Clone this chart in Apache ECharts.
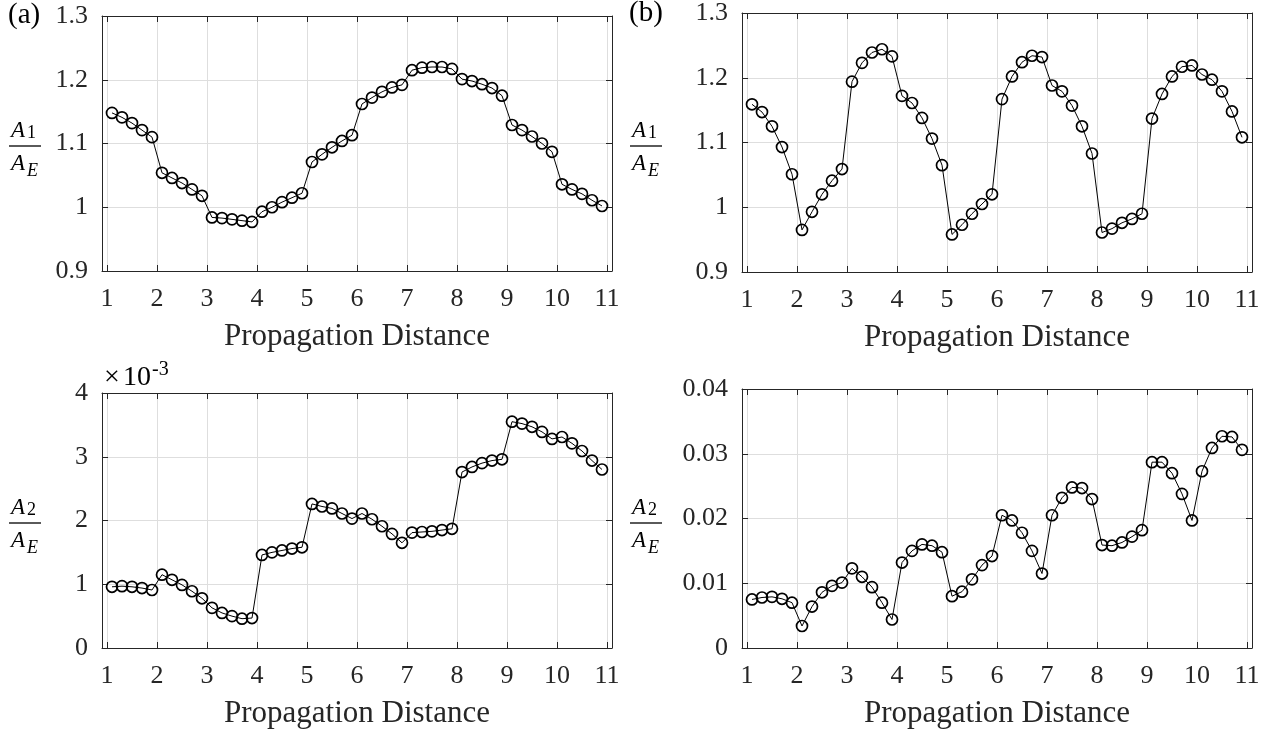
<!DOCTYPE html>
<html><head><meta charset="utf-8">
<script src="https://cdn.jsdelivr.net/npm/echarts@6/dist/echarts.min.js"></script>
<style>html,body{margin:0;padding:0;background:#fff}#c{width:1273px;height:736px}</style>
</head><body><div id="c"></div>
<script>
// ---- data ----
const xValues = [1.1,1.3,1.5,1.7,1.9, 2.1,2.3,2.5,2.7,2.9, 3.1,3.3,3.5,3.7,3.9, 4.1,4.3,4.5,4.7,4.9,
  5.1,5.3,5.5,5.7,5.9, 6.1,6.3,6.5,6.7,6.9, 7.1,7.3,7.5,7.7,7.9, 8.1,8.3,8.5,8.7,8.9,
  9.1,9.3,9.5,9.7,9.9, 10.1,10.3,10.5,10.7,10.9];
const xTicks = [1,2,3,4,5,6,7,8,9,10,11];
// panel (a) top: A1/AE
const a1 = [1.148,1.141,1.132,1.121,1.110, 1.054,1.046,1.038,1.028,1.018, 0.984,0.983,0.981,0.979,0.977,
  0.993,1.000,1.008,1.015,1.022, 1.071,1.083,1.094,1.104,1.113, 1.162,1.172,1.181,1.188,1.192,
  1.215,1.219,1.220,1.220,1.217, 1.201,1.198,1.193,1.187,1.175, 1.129,1.121,1.111,1.100,1.087,
  1.036,1.028,1.021,1.011,1.002];
// panel (a) bottom: A2/AE in units of 1e-3
const a2e3 = [0.96,0.97,0.96,0.94,0.91, 1.15,1.07,0.99,0.89,0.78, 0.63,0.55,0.50,0.46,0.47,
  1.46,1.50,1.53,1.56,1.58, 2.26,2.22,2.19,2.11,2.03, 2.11,2.02,1.91,1.79,1.65,
  1.81,1.82,1.83,1.85,1.87, 2.76,2.84,2.90,2.94,2.96, 3.55,3.52,3.47,3.39,3.28,
  3.31,3.21,3.09,2.94,2.80];
// panel (b) top: A1/AE
const b1 = [1.159,1.147,1.125,1.093,1.051, 0.965,0.993,1.020,1.041,1.059, 1.194,1.223,1.239,1.244,1.233,
  1.172,1.161,1.138,1.106,1.065, 0.958,0.973,0.990,1.005,1.020, 1.167,1.202,1.224,1.234,1.232,
  1.188,1.179,1.157,1.125,1.083, 0.961,0.967,0.976,0.982,0.990, 1.137,1.175,1.202,1.217,1.219,
  1.205,1.197,1.179,1.148,1.108];
// panel (b) bottom: A2/AE
const b2 = [0.0075,0.0078,0.0079,0.0076,0.0070, 0.0034,0.0064,0.0086,0.0096,0.0101, 0.0123,0.0110,0.0094,0.0070,0.0044,
  0.0132,0.0150,0.0160,0.0158,0.0148, 0.0080,0.0087,0.0106,0.0128,0.0142, 0.0205,0.0197,0.0178,0.0150,0.0115,
  0.0205,0.0232,0.0248,0.0247,0.0230, 0.0159,0.0158,0.0163,0.0172,0.0182, 0.0287,0.0287,0.0270,0.0238,0.0197,
  0.0273,0.0309,0.0327,0.0326,0.0306];
const xLabel = 'Propagation Distance';

// ---- layout / style ----
const FONT = "'Liberation Serif','Times New Roman',serif";
const INK = '#262626';
const TICK_FS = 26, NAME_FS = 31;
const grids = [
  {left:102, top:16, width:510, height:255},
  {left:102, top:393, width:510, height:255},
  {left:742, top:12, width:510, height:260},
  {left:742, top:389, width:510, height:259}
];
const yCfg = [
  {min:0.9, max:1.3, interval:0.1, data:a1},
  {min:0, max:4, interval:1, data:a2e3},
  {min:0.9, max:1.3, interval:0.1, data:b1},
  {min:0, max:0.04, interval:0.01, data:b2}
];

const xAxes = [], yAxes = [], series = [];
grids.forEach((g, i) => {
  const yc = yCfg[i];
  xAxes.push({
    type:'value', gridIndex:i, position:'bottom', min:0.9, max:11.1,
    axisLine:{show:true, onZero:false, lineStyle:{color:INK, width:1}},
    axisTick:{show:true, inside:true, length:6, customValues:xTicks, lineStyle:{color:INK}},
    axisLabel:{show:true, customValues:xTicks, margin:15, color:INK, fontFamily:FONT, fontSize:TICK_FS},
    splitLine:{show:true, lineStyle:{color:'#dedede', width:1}},
    name:xLabel, nameLocation:'middle', nameGap:50,
    nameTextStyle:{color:INK, fontFamily:FONT, fontSize:NAME_FS}
  });
  xAxes.push({
    type:'value', gridIndex:i, position:'top', min:0.9, max:11.1,
    axisLine:{show:true, onZero:false, lineStyle:{color:INK, width:1}},
    axisTick:{show:true, inside:true, length:6, customValues:xTicks, lineStyle:{color:INK}},
    axisLabel:{show:false}, splitLine:{show:false}
  });
  yAxes.push({
    type:'value', gridIndex:i, position:'left', min:yc.min, max:yc.max, interval:yc.interval,
    axisLine:{show:true, onZero:false, lineStyle:{color:INK, width:1}},
    axisTick:{show:true, inside:true, length:6, lineStyle:{color:INK}},
    axisLabel:{show:true, margin:14, color:INK, fontFamily:FONT, fontSize:TICK_FS},
    splitLine:{show:true, lineStyle:{color:'#dedede', width:1}}
  });
  yAxes.push({
    type:'value', gridIndex:i, position:'right', min:yc.min, max:yc.max, interval:yc.interval,
    axisLine:{show:true, onZero:false, lineStyle:{color:INK, width:1}},
    axisTick:{show:true, inside:true, length:6, lineStyle:{color:INK}},
    axisLabel:{show:false}, splitLine:{show:false}
  });
  series.push({
    type:'line', xAxisIndex:2*i, yAxisIndex:2*i,
    data: xValues.map((x, j) => [x, yc.data[j]]),
    symbol:'circle', symbolSize:11, showSymbol:true,
    lineStyle:{color:'#000', width:1},
    itemStyle:{color:'rgba(255,255,255,0)', borderColor:'#000', borderWidth:1.7},
    emphasis:{disabled:true}
  });
});

// ---- text graphics (fraction labels, panel tags, exponent) ----
function txt(x, y, text, size, italic, align) {
  return {type:'text', x:x, y:y, silent:true, style:{text:text, fill:'#000',
    font:(italic?'italic ':'') + size + 'px ' + FONT, textAlign:align||'left', textVerticalAlign:'middle'}};
}
function fraction(lx, ly, sub) {
  return [
    {type:'line', silent:true, shape:{x1:lx, y1:ly, x2:lx+32, y2:ly}, style:{stroke:'#000', lineWidth:1.3}},
    txt(lx+2, ly-15, 'A', 23, true),
    txt(lx+18, ly-13, sub, 18, false),
    txt(lx+2, ly+18, 'A', 23, true),
    txt(lx+18, ly+25, 'E', 18, true)
  ];
}
const graphics = [].concat(
  fraction(9, 146, '1'),
  fraction(9, 523, '2'),
  fraction(630, 146, '1'),
  fraction(630, 523, '2'),
  [txt(8, 15, '(a)', 29, false), txt(629, 13, '(b)', 29, false),
   txt(104, 378, '\u00d7', 28, false), txt(123, 378, '10', 28, false), txt(152, 370, '-3', 20, false)]
);

const chart = echarts.init(document.getElementById('c'), null, {renderer:'canvas'});
chart.setOption({
  animation:false,
  backgroundColor:'#fff',
  grid: grids.map(g => Object.assign({containLabel:false}, g)),
  xAxis: xAxes, yAxis: yAxes, series: series,
  graphic: graphics
});
</script></body></html>
